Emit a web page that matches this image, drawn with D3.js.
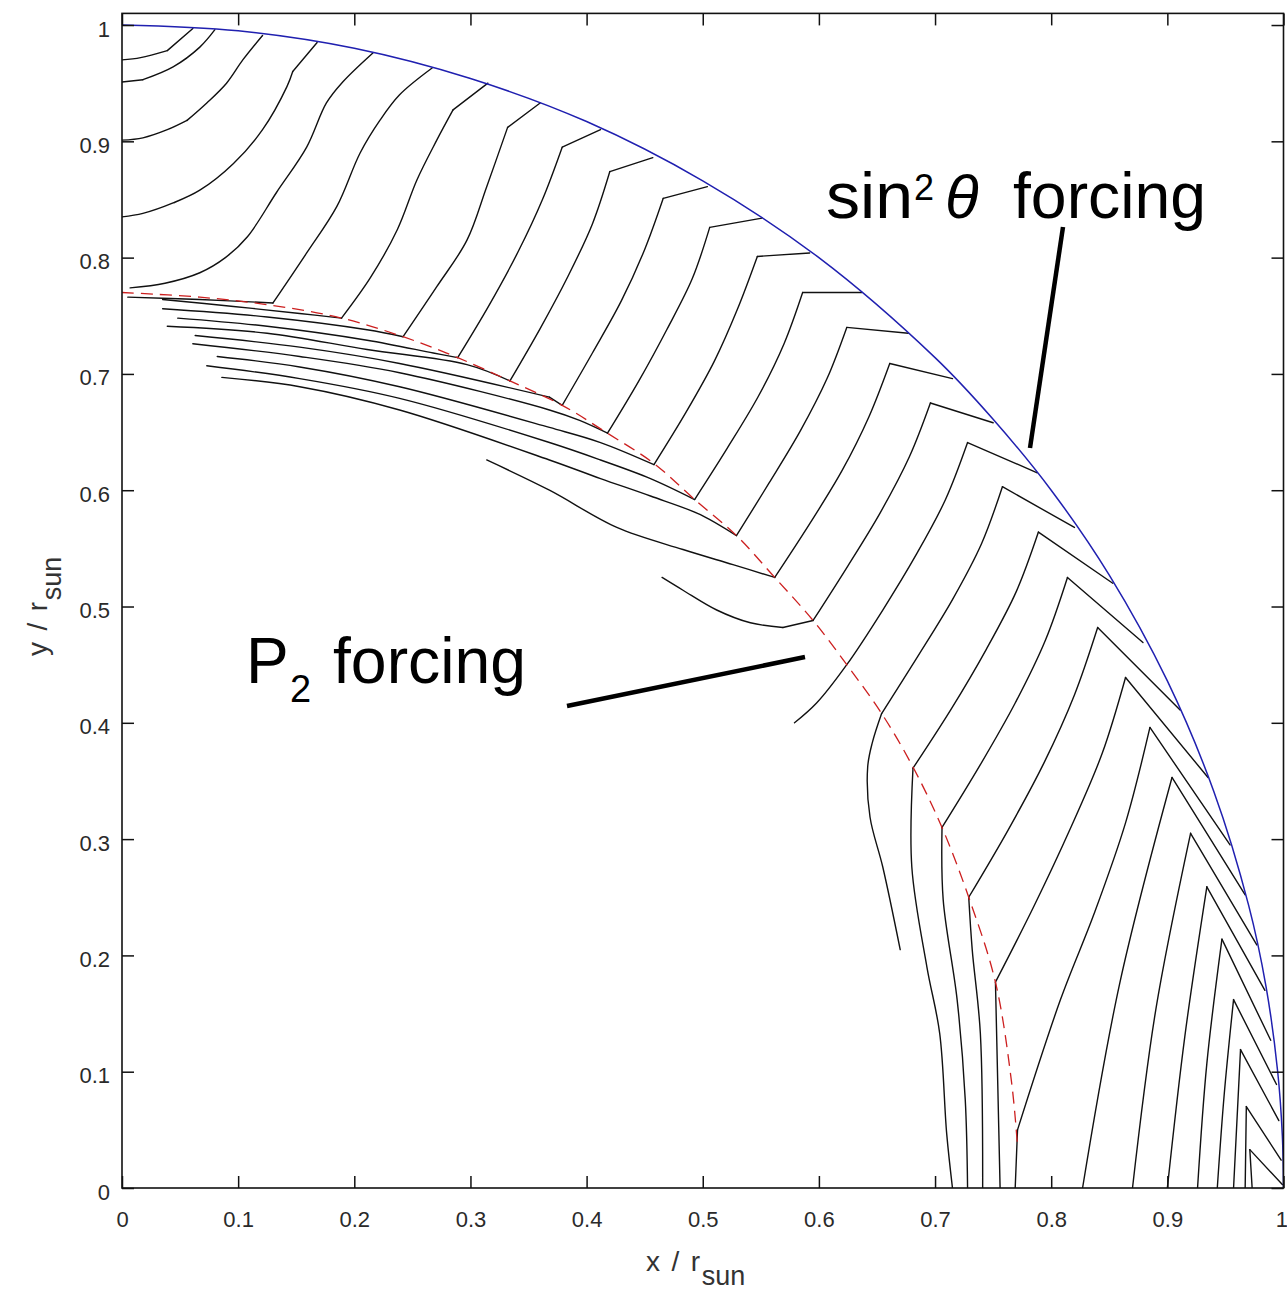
<!DOCTYPE html>
<html>
<head>
<meta charset="utf-8">
<script src="https://cdn.jsdelivr.net/npm/d3@7"></script>
<style>
  html, body { margin: 0; padding: 0; background: #fff; }
  svg { display: block; }
</style>
</head>
<body>
<svg id="chart" width="1287" height="1291"></svg>
<script>
// ---- axis ticks ----
const xTicks = [0, 0.1, 0.2, 0.3, 0.4, 0.5, 0.6, 0.7, 0.8, 0.9, 1];
const xTickLabels = ["0", "0.1", "0.2", "0.3", "0.4", "0.5", "0.6", "0.7", "0.8", "0.9", "1"];
const yTicks = [0, 0.1, 0.2, 0.3, 0.4, 0.5, 0.6, 0.7, 0.8, 0.9, 1];
const yTickLabels = ["0", "0.1", "0.2", "0.3", "0.4", "0.5", "0.6", "0.7", "0.8", "0.9", "1"];

// ---- outer surface (r = 1), blue ----
const surfaceBoundary = [
  [0, 1], [0.1, 0.995], [0.2, 0.98], [0.3, 0.954], [0.4, 0.917], [0.5, 0.866],
  [0.6, 0.8], [0.7, 0.714], [0.75, 0.661], [0.8, 0.6], [0.85, 0.527], [0.9, 0.436],
  [0.94, 0.341], [0.97, 0.243], [0.985, 0.173], [0.995, 0.1], [0.999, 0.045], [1, 0]
];

// ---- inner forcing boundary (P2), red dashed ----
const innerBoundary = [
  [0, 0.770], [0.067, 0.766], [0.129, 0.759], [0.189, 0.748], [0.242, 0.732],
  [0.289, 0.714], [0.334, 0.694], [0.379, 0.673], [0.418, 0.649], [0.458, 0.623],
  [0.493, 0.592], [0.529, 0.561], [0.562, 0.525], [0.595, 0.488], [0.624, 0.450],
  [0.654, 0.408], [0.681, 0.362], [0.706, 0.310], [0.729, 0.250], [0.752, 0.177],
  [0.766, 0.090], [0.771, 0.036]
];

// ---- rays leaving the polar axis ----
const polarRays = [
  [[0, 0.970], [0.016, 0.972], [0.039, 0.978], [0.061, 0.997]],
  [[0, 0.951], [0.018, 0.953], [0.044, 0.964], [0.067, 0.981], [0.080, 0.996]],
  [[0, 0.901], [0.018, 0.903], [0.039, 0.910], [0.056, 0.918], [0.073, 0.933], [0.090, 0.950], [0.104, 0.970], [0.121, 0.991]],
  [[0, 0.835], [0.018, 0.838], [0.044, 0.847], [0.067, 0.858], [0.096, 0.881], [0.121, 0.910], [0.142, 0.947], [0.147, 0.960], [0.168, 0.985]],
  [[0.007, 0.774], [0.037, 0.778], [0.067, 0.787], [0.089, 0.800], [0.108, 0.818], [0.133, 0.856], [0.159, 0.895], [0.176, 0.933], [0.190, 0.951], [0.216, 0.976]]
];

// ---- rays that run under the inner boundary, then climb to the surface ----
const fanRays = [
  [[0.005, 0.766], [0.067, 0.764], [0.130, 0.761], [0.159, 0.804], [0.185, 0.844], [0.205, 0.890], [0.222, 0.918], [0.239, 0.940], [0.267, 0.963]],
  [[0.035, 0.764], [0.096, 0.758], [0.153, 0.752], [0.189, 0.748], [0.214, 0.783], [0.237, 0.824], [0.254, 0.867], [0.271, 0.901], [0.285, 0.927], [0.315, 0.950]],
  [[0.035, 0.756], [0.125, 0.749], [0.211, 0.738], [0.242, 0.732], [0.271, 0.775], [0.297, 0.815], [0.314, 0.861], [0.332, 0.912], [0.360, 0.933]],
  [[0.048, 0.748], [0.125, 0.741], [0.211, 0.729], [0.268, 0.718], [0.289, 0.714], [0.316, 0.759], [0.341, 0.805], [0.362, 0.850], [0.379, 0.895], [0.412, 0.910]],
  [[0.039, 0.741], [0.125, 0.735], [0.211, 0.721], [0.297, 0.708], [0.334, 0.694], [0.360, 0.739], [0.384, 0.784], [0.405, 0.829], [0.420, 0.874], [0.457, 0.886]],
  [[0.063, 0.733], [0.153, 0.723], [0.239, 0.709], [0.368, 0.680], [0.379, 0.673], [0.405, 0.718], [0.430, 0.763], [0.450, 0.807], [0.466, 0.851], [0.504, 0.861]],
  [[0.061, 0.726], [0.153, 0.715], [0.239, 0.701], [0.368, 0.669], [0.394, 0.660], [0.418, 0.649], [0.445, 0.694], [0.469, 0.738], [0.491, 0.782], [0.506, 0.826], [0.551, 0.834]],
  [[0.082, 0.715], [0.153, 0.706], [0.239, 0.689], [0.368, 0.654], [0.412, 0.641], [0.458, 0.622], [0.485, 0.666], [0.510, 0.711], [0.530, 0.756], [0.547, 0.801], [0.592, 0.804]],
  [[0.073, 0.707], [0.153, 0.696], [0.239, 0.679], [0.368, 0.641], [0.412, 0.626], [0.455, 0.610], [0.493, 0.592], [0.521, 0.636], [0.548, 0.681], [0.570, 0.726], [0.586, 0.770], [0.637, 0.770]],
  [[0.086, 0.697], [0.153, 0.689], [0.239, 0.669], [0.368, 0.626], [0.412, 0.610], [0.455, 0.595], [0.498, 0.579], [0.529, 0.561], [0.557, 0.606], [0.584, 0.651], [0.607, 0.696], [0.624, 0.740], [0.677, 0.735]],
  [[0.314, 0.626], [0.368, 0.600], [0.426, 0.568], [0.483, 0.549], [0.526, 0.536], [0.562, 0.525], [0.592, 0.571], [0.620, 0.617], [0.643, 0.663], [0.661, 0.709], [0.715, 0.696]],
  [[0.465, 0.525], [0.483, 0.514], [0.512, 0.497], [0.541, 0.486], [0.569, 0.482], [0.595, 0.488], [0.625, 0.535], [0.653, 0.581], [0.678, 0.629], [0.696, 0.675], [0.750, 0.658]]
];

// ---- rays from the lower region, kinked at the inner boundary ----
const lowerRays = [
  [[0.579, 0.400], [0.598, 0.417], [0.624, 0.450], [0.655, 0.497], [0.684, 0.545], [0.709, 0.592], [0.728, 0.641], [0.788, 0.615]],
  [[0.670, 0.205], [0.655, 0.276], [0.644, 0.319], [0.642, 0.362], [0.646, 0.383], [0.654, 0.408], [0.685, 0.457], [0.715, 0.506], [0.740, 0.554], [0.758, 0.603], [0.820, 0.568]],
  [[0.715, 0], [0.710, 0.047], [0.704, 0.133], [0.693, 0.190], [0.680, 0.276], [0.681, 0.361], [0.714, 0.412], [0.744, 0.463], [0.770, 0.513], [0.789, 0.564], [0.853, 0.520]],
  [[0.728, 0], [0.726, 0.076], [0.719, 0.162], [0.707, 0.248], [0.706, 0.310], [0.739, 0.364], [0.769, 0.417], [0.795, 0.471], [0.814, 0.525], [0.879, 0.469]],
  [[0.741, 0], [0.739, 0.133], [0.732, 0.205], [0.729, 0.250], [0.763, 0.308], [0.794, 0.366], [0.820, 0.424], [0.840, 0.482], [0.911, 0.411]],
  [[0.756, 0], [0.754, 0.089], [0.752, 0.177], [0.785, 0.242], [0.816, 0.308], [0.844, 0.374], [0.864, 0.439], [0.935, 0.353]],
  [[0.769, 0], [0.771, 0.050], [0.808, 0.162], [0.837, 0.236], [0.864, 0.314], [0.885, 0.396], [0.954, 0.295]]
];

// ---- arches rising from the equator near the surface ----
const equatorArches = [
  [[0.827, 0], [0.859, 0.176], [0.904, 0.353], [0.967, 0.252]],
  [[0.870, 0], [0.890, 0.153], [0.920, 0.305], [0.977, 0.209]],
  [[0.900, 0], [0.915, 0.130], [0.934, 0.259], [0.984, 0.170]],
  [[0.926, 0], [0.934, 0.107], [0.947, 0.214], [0.989, 0.127]],
  [[0.943, 0], [0.949, 0.081], [0.957, 0.162], [0.994, 0.089]],
  [[0.957, 0], [0.963, 0.119], [0.996, 0.058]],
  [[0.967, 0], [0.968, 0.070], [0.998, 0.024]],
  [[0.973, 0], [0.971, 0.033], [0.999, 0.003]]
];

// ---- layout ----
const svg = d3.select("#chart");
const x = d3.scaleLinear().domain([0, 1]).range([122, 1283.5]);
const y = d3.scaleLinear().domain([0, 1.01]).range([1188, 13.4]);
const smooth = d3.line().x(d => x(d[0])).y(d => y(d[1])).curve(d3.curveCatmullRom.alpha(0.5));

// break a ray at its corners so each leg is smoothed on its own
function legs(pts) {
  const px = pts.map(d => [x(d[0]), y(d[1])]);
  const out = [];
  let cur = [pts[0]];
  for (let i = 1; i < pts.length; i++) {
    cur.push(pts[i]);
    if (i < pts.length - 1) {
      const a = Math.atan2(px[i][1] - px[i - 1][1], px[i][0] - px[i - 1][0]);
      const b = Math.atan2(px[i + 1][1] - px[i][1], px[i + 1][0] - px[i][0]);
      let turn = Math.abs(b - a);
      if (turn > Math.PI) turn = 2 * Math.PI - turn;
      if (turn > 0.25) { out.push(cur); cur = [pts[i]]; }
    }
  }
  out.push(cur);
  return out;
}

const plot = svg.append("g");
plot.append("defs").append("clipPath").attr("id", "plotClip")
  .append("rect").attr("x", x(0)).attr("y", y(1.01)).attr("width", x(1) - x(0)).attr("height", y(0) - y(1.01));
const marks = plot.append("g").attr("clip-path", "url(#plotClip)");

// black rays
const rayGroups = [polarRays, fanRays, lowerRays, equatorArches];
rayGroups.forEach(group => {
  const g = marks.append("g");
  g.selectAll("g").data(group).enter().append("g")
    .selectAll("path").data(d => legs(d)).enter().append("path")
    .attr("d", smooth)
    .attr("fill", "none")
    .attr("stroke", "#111")
    .attr("stroke-width", 1.4)
    .attr("stroke-linejoin", "round")
    .attr("stroke-linecap", "round");
});

// inner boundary
marks.append("path").datum(innerBoundary)
  .attr("d", smooth)
  .attr("fill", "none")
  .attr("stroke", "#cc1f1f")
  .attr("stroke-width", 1.3)
  .attr("stroke-dasharray", "12,7");

// outer surface
marks.append("path").datum(surfaceBoundary)
  .attr("d", smooth)
  .attr("fill", "none")
  .attr("stroke", "#2020b0")
  .attr("stroke-width", 1.5);

// ---- axes (ticks drawn inward on all four sides) ----
const tickFont = "'Liberation Sans', Arial, sans-serif";
const bottomAxis = d3.axisBottom(x).tickValues(xTicks)
  .tickFormat((d, i) => xTickLabels[i]).tickSizeInner(-12).tickSizeOuter(0).tickPadding(23);
const leftAxis = d3.axisLeft(y).tickValues(yTicks)
  .tickFormat((d, i) => yTickLabels[i]).tickSizeInner(-12).tickSizeOuter(0).tickPadding(12);
const topAxis = d3.axisTop(x).tickValues(xTicks).tickFormat("").tickSizeInner(-12).tickSizeOuter(0);
const rightAxis = d3.axisRight(y).tickValues(yTicks).tickFormat("").tickSizeInner(-12).tickSizeOuter(0);

function styleAxis(g) {
  g.select(".domain").remove();
  g.selectAll(".tick line").attr("stroke", "#111").attr("stroke-width", 1.5);
  g.selectAll(".tick text").attr("fill", "#2a2a2a").style("font-family", tickFont).style("font-size", "22px");
}
const xAxisG = svg.append("g").attr("transform", `translate(0,${y(0)})`).call(bottomAxis).call(styleAxis);
// keep the last label inside the page edge
xAxisG.selectAll(".tick text").filter((d, i) => i === xTicks.length - 1)
  .attr("text-anchor", "end").attr("x", 4);
svg.append("g").attr("transform", `translate(${x(0)},0)`).call(leftAxis).call(styleAxis)
  .selectAll(".tick text").attr("dy", "0.5em");
svg.append("g").attr("transform", `translate(0,${y(1.01)})`).call(topAxis).call(styleAxis);
svg.append("g").attr("transform", `translate(${x(1)},0)`).call(rightAxis).call(styleAxis);

// frame
svg.append("rect")
  .attr("x", x(0)).attr("y", y(1.01))
  .attr("width", x(1) - x(0)).attr("height", y(0) - y(1.01))
  .attr("fill", "none").attr("stroke", "#111").attr("stroke-width", 1.6);

// ---- axis titles ----
const xTitle = svg.append("text")
  .attr("x", 646).attr("y", 1271)
  .style("font-family", tickFont).style("font-size", "28px").attr("fill", "#333");
xTitle.append("tspan").attr("textLength", 54).attr("lengthAdjust", "spacing").text("x / r");
xTitle.append("tspan").attr("dy", 14).style("font-size", "27px").text("sun");

const yTitle = svg.append("text")
  .attr("transform", `translate(47,656) rotate(-90)`)
  .style("font-family", tickFont).style("font-size", "28px").attr("fill", "#333");
yTitle.append("tspan").attr("textLength", 54).attr("lengthAdjust", "spacing").text("y / r");
yTitle.append("tspan").attr("dy", 14).style("font-size", "27px").text("sun");

// ---- annotations ----
const annFont = "'Liberation Sans', Arial, sans-serif";
const ann = svg.append("g").attr("fill", "#000").style("font-family", annFont);

ann.append("text").attr("x", 826).attr("y", 218).style("font-size", "64px")
  .attr("textLength", 87).attr("lengthAdjust", "spacingAndGlyphs").text("sin");
ann.append("text").attr("x", 914).attr("y", 200).style("font-size", "36px").text("2");
ann.append("text").attr("x", 945).attr("y", 218).style("font-size", "62px").style("font-style", "italic").text("θ");
ann.append("text").attr("x", 1013).attr("y", 218).style("font-size", "64px")
  .attr("textLength", 193).attr("lengthAdjust", "spacingAndGlyphs").text("forcing");

ann.append("text").attr("x", 246).attr("y", 683).style("font-size", "64px").text("P");
ann.append("text").attr("x", 290).attr("y", 702).style("font-size", "38px").text("2");
ann.append("text").attr("x", 333).attr("y", 683).style("font-size", "64px")
  .attr("textLength", 193).attr("lengthAdjust", "spacingAndGlyphs").text("forcing");

// pointer strokes
const pointers = [
  [[1063, 227], [1030, 448]],
  [[567, 706], [805, 657]]
];
ann.selectAll(null).data(pointers).enter().append("line")
  .attr("x1", d => d[0][0]).attr("y1", d => d[0][1])
  .attr("x2", d => d[1][0]).attr("y2", d => d[1][1])
  .attr("stroke", "#000").attr("stroke-width", 4.5).attr("stroke-linecap", "butt");
</script>
</body>
</html>
